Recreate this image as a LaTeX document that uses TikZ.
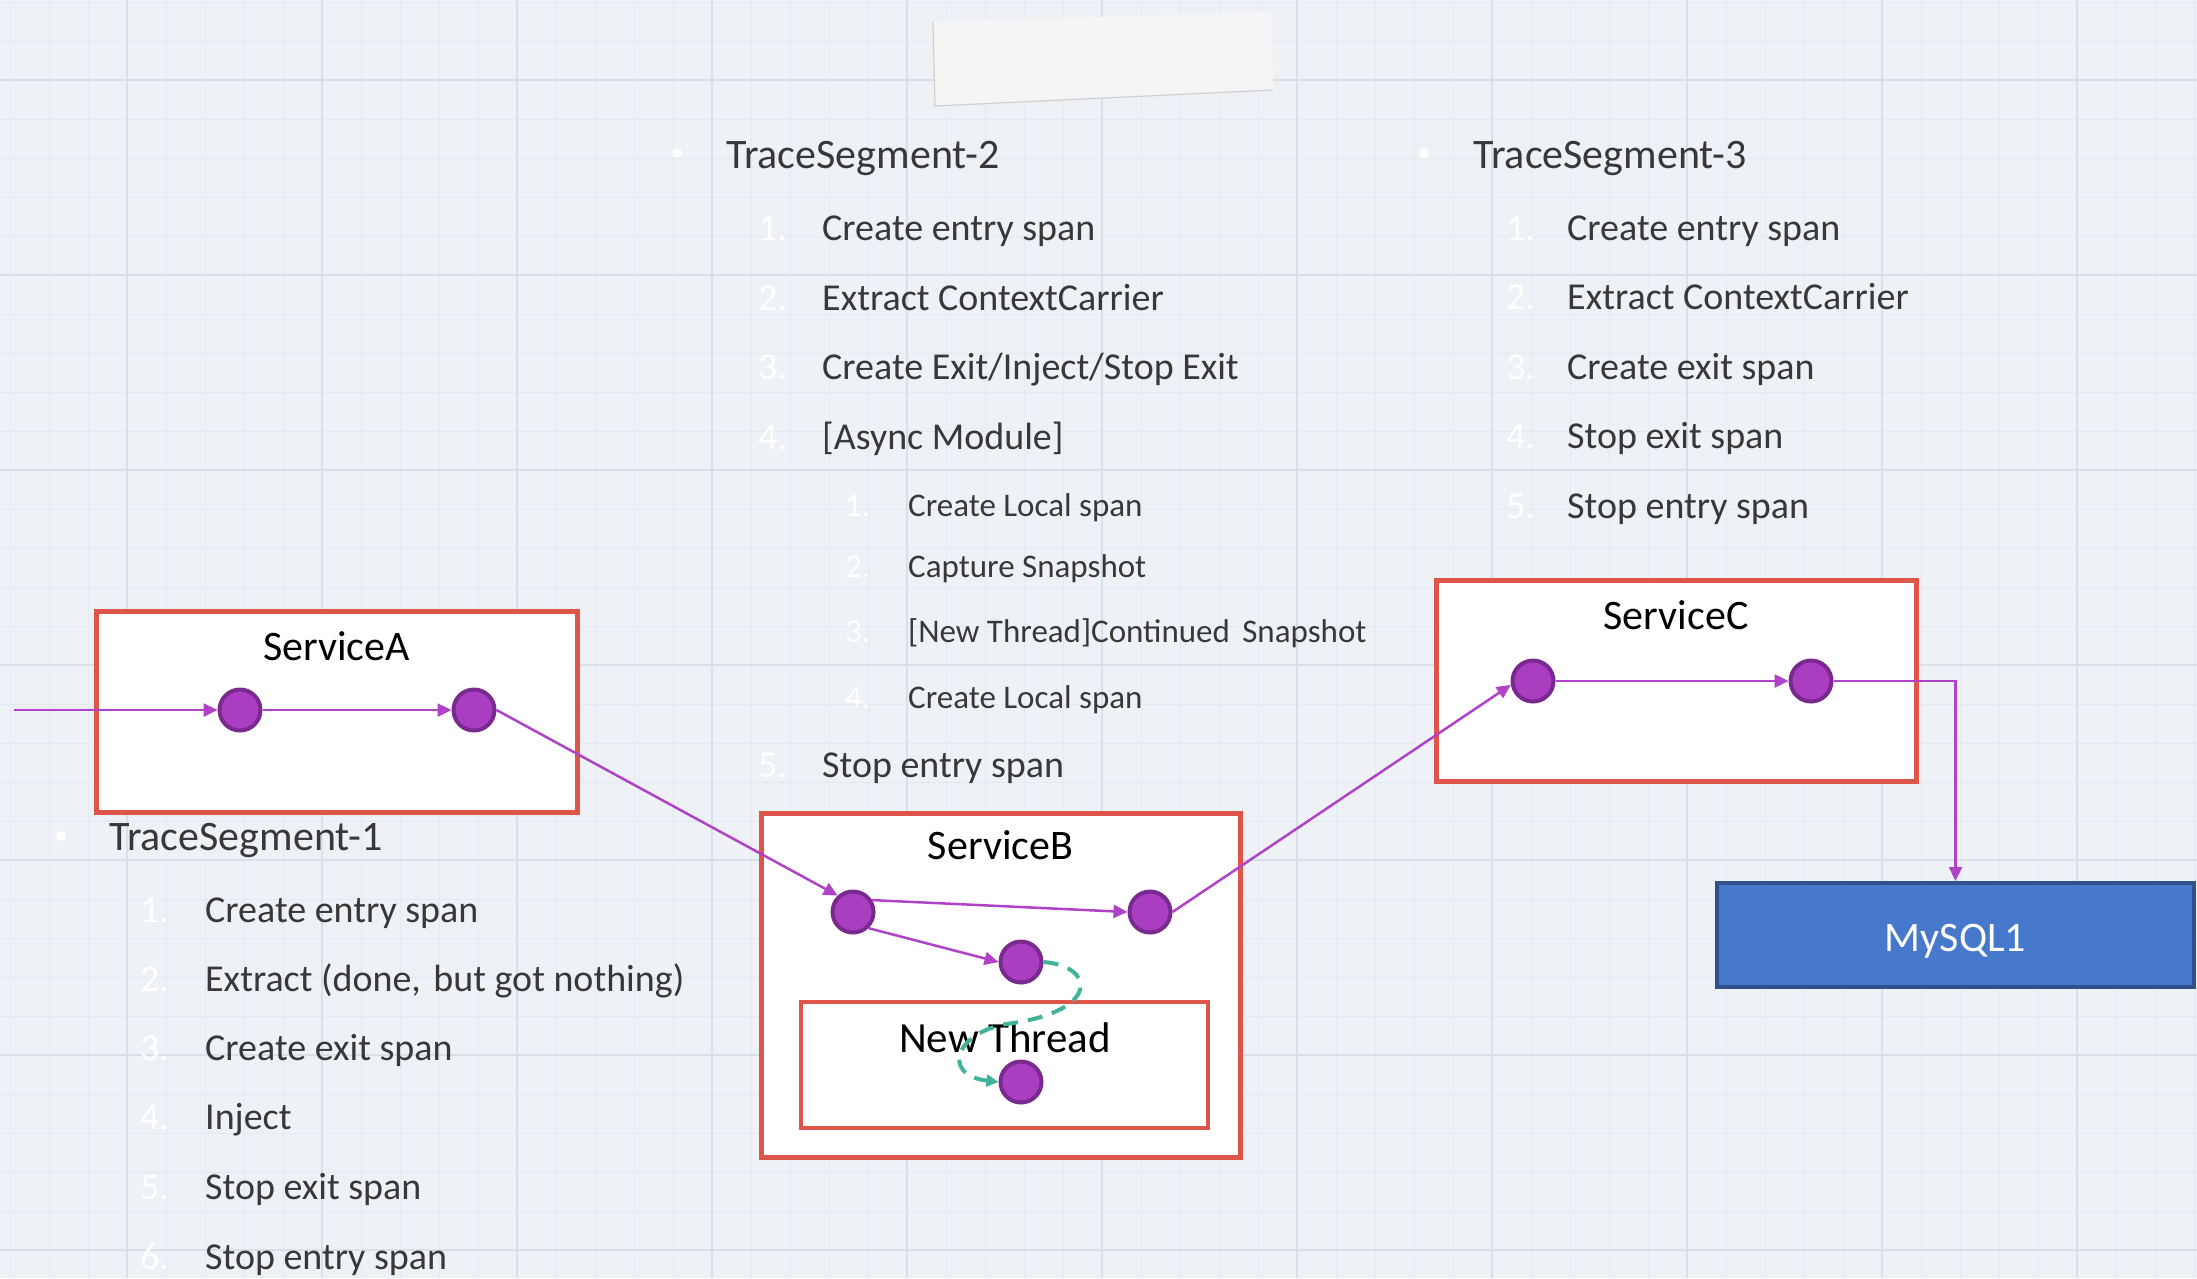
\documentclass[tikz,border=0pt]{standalone}
\usepackage{fontspec}
\setmainfont{Carlito}
\usetikzlibrary{arrows.meta}

\definecolor{paper}{HTML}{EEF2F6}
\definecolor{gridmajor}{HTML}{D9E1E8}
\definecolor{gridminor}{HTML}{E4EAEF}
\definecolor{boxred}{HTML}{E0554A}
\definecolor{spanfill}{HTML}{AA3EC0}
\definecolor{spanedge}{HTML}{7A2A8E}
\definecolor{flowc}{HTML}{B042C8}
\definecolor{handoff}{HTML}{40B49A}
\definecolor{dbfill}{HTML}{4678CC}
\definecolor{dbedge}{HTML}{2F528F}
\definecolor{txt}{HTML}{383838}

\tikzset{
  svc/.style={draw=boxred, line width=5pt, fill=white, inner sep=0pt},
  dbbox/.style={draw=dbedge, line width=4pt, fill=dbfill, inner sep=0pt},
  spandot/.style={circle, draw=spanedge, fill=spanfill, line width=4pt,
    minimum size=41pt, inner sep=0pt},
  flow/.style={draw=flowc, line width=2.5pt,
    -{Triangle[length=14pt,width=13pt]}},
  handover/.style={draw=handoff, line width=4pt, dash pattern=on 15pt off 10pt,
    -{Triangle[length=12pt,width=12pt]}},
  title/.style={anchor=base, inner sep=0pt, text=black,
    font=\fontsize{42}{50}\selectfont},
  head/.style={anchor=base west, inner sep=0pt, text=txt,
    font=\fontsize{42}{50}\selectfont},
  item/.style={anchor=base west, inner sep=0pt, text=txt,
    font=\fontsize{38}{45}\selectfont},
  subitem/.style={anchor=base west, inner sep=0pt, text=txt,
    font=\fontsize{33}{40}\selectfont},
  num/.style={item, text=white},
  subnum/.style={subitem, text=white},
  bulletdot/.style={circle, fill=white, minimum size=10pt, inner sep=0pt},
  majorline/.style={draw=gridmajor, line width=2.5pt},
  minorline/.style={draw=gridminor, line width=1pt},
}

\begin{document}
\begin{tikzpicture}[x=1pt,y=-1pt]
\useasboundingbox (0,0) rectangle (2197,1278);

% graph-paper background
\fill[paper] (0,0) rectangle (2197,1278);
\foreach \gx in {10,49,...,2197} \draw[minorline] (\gx,0) -- (\gx,1278);
\foreach \gy in {2,41,...,1278} \draw[minorline] (0,\gy) -- (2197,\gy);
\foreach \gx in {127,322,...,2197} \draw[majorline] (\gx,0) -- (\gx,1278);
\foreach \gy in {80,275,...,1278} \draw[majorline] (0,\gy) -- (2197,\gy);

% pale paper strip at the top
\fill[white!96!black] (933,22) -- (1272,12) -- (1273,90) -- (935,106) -- cycle;
\draw[black!18, line width=1.2pt] (933,22) -- (935,106) -- (1273,90);

% ---------- TraceSegment-2 ----------
\node[bulletdot] (b2) at (677,153) {};
\node[head] (ts2) at (726,168) {TraceSegment-2};
\node[num] (ts2n1) at (758,240) {1.};
\node[item] (ts2i1) at (822,240) {Create entry span};
\node[num] (ts2n2) at (758,310) {2.};
\node[item] (ts2i2) at (822,310) {Extract ContextCarrier};
\node[num] (ts2n3) at (758,379) {3.};
\node[item] (ts2i3) at (822,379) {Create Exit/Inject/Stop Exit};
\node[num] (ts2n4) at (758,449) {4.};
\node[item] (ts2i4) at (822,449) {[Async Module]};
\node[subnum] (ts2s1n) at (845,516) {1.};
\node[subitem] (ts2s1) at (908,516) {Create Local span};
\node[subnum] (ts2s2n) at (845,577) {2.};
\node[subitem] (ts2s2) at (908,577) {Capture Snapshot};
\node[subnum] (ts2s3n) at (845,642) {3.};
\node[subitem] (ts2s3) at (908,642) {[New Thread]Continued\hspace{0.15em} Snapshot};
\node[subnum] (ts2s4n) at (845,708) {4.};
\node[subitem] (ts2s4) at (908,708) {Create Local span};
\node[num] (ts2n5) at (758,777) {5.};
\node[item] (ts2i5) at (822,777) {Stop entry span};

% ---------- TraceSegment-3 ----------
\node[bulletdot] (b3) at (1424,153) {};
\node[head] (ts3) at (1473,168) {TraceSegment-3};
\node[num] (ts3n1) at (1506,240) {1.};
\node[item] (ts3i1) at (1567,240) {Create entry span};
\node[num] (ts3n2) at (1506,309) {2.};
\node[item] (ts3i2) at (1567,309) {Extract ContextCarrier};
\node[num] (ts3n3) at (1506,379) {3.};
\node[item] (ts3i3) at (1567,379) {Create exit span};
\node[num] (ts3n4) at (1506,448) {4.};
\node[item] (ts3i4) at (1567,448) {Stop exit span};
\node[num] (ts3n5) at (1506,518) {5.};
\node[item] (ts3i5) at (1567,518) {Stop entry span};

% ---------- TraceSegment-1 ----------
\node[bulletdot] (b1) at (61,836) {};
\node[head] (ts1) at (109,850) {TraceSegment-1};
\node[num] (ts1n1) at (140,922) {1.};
\node[item] (ts1i1) at (205,922) {Create entry span};
\node[num] (ts1n2) at (140,991) {2.};
\node[item] (ts1i2) at (205,991) {Extract (done,\hspace{0.1em} but got nothing)};
\node[num] (ts1n3) at (140,1060) {3.};
\node[item] (ts1i3) at (205,1060) {Create exit span};
\node[num] (ts1n4) at (140,1129) {4.};
\node[item] (ts1i4) at (205,1129) {Inject};
\node[num] (ts1n5) at (140,1199) {5.};
\node[item] (ts1i5) at (205,1199) {Stop exit span};
\node[num] (ts1n6) at (140,1269) {6.};
\node[item] (ts1i6) at (205,1269) {Stop entry span};

% ---------- service boxes ----------
\node[svc, minimum width=481pt, minimum height=201pt] (svcA) at (336.5,711.5) {};
\node[title] (svcAt) at (336.5,660) {ServiceA};

\node[svc, minimum width=479pt, minimum height=344pt] (svcB) at (1000.5,985) {};
\node[title] (svcBt) at (1000.5,859) {ServiceB};
\node[svc, line width=4.5pt, minimum width=407pt, minimum height=126pt] (thr) at (1004.5,1065) {};
\node[title, font=\fontsize{43}{50}\selectfont] (thrt) at (1005,1052) {New Thread};

\node[svc, minimum width=480pt, minimum height=201pt] (svcC) at (1676,680.5) {};
\node[title] (svcCt) at (1676,629) {ServiceC};

\node[dbbox, minimum width=477pt, minimum height=104pt] (db) at (1955.5,935) {};
\node[title, text=white] (dbt) at (1955.5,951) {MySQL1};

% ---------- spans ----------
\coordinate (in) at (14,710);
\node[spandot] (a1) at (240,710) {};
\node[spandot] (a2) at (474,710) {};
\node[spandot] (b1s) at (853,912) {};
\node[spandot] (b2s) at (1150,912) {};
\node[spandot] (b3s) at (1021,962) {};
\node[spandot] (b4s) at (1021,1082) {};
\node[spandot] (c1) at (1533,681) {};
\node[spandot] (c2) at (1811,681) {};

% ---------- calls ----------
\draw[flow] (in) -- (a1.west);
\draw[flow] (a1.east) -- (a2.west);
\draw[flow] (a2.east) -- (b1s.133);
\draw[flow] (b1s.32) -- (b2s.west);
\draw[flow] (b1s.-46) -- (b3s.west);
\draw[flow] (b2s.east) -- (c1.190);
\draw[flow] (c1.east) -- (c2.west);
\draw[flow] (c2.east) -| (db.north);

% cross-thread hand-over of the snapshot
\draw[handover] (b3s.east) .. controls (1095,966) and (1100,1010) .. (1013,1023)
  .. controls (955,1030) and (940,1075) .. (b4s.west);
\end{tikzpicture}
\end{document}
